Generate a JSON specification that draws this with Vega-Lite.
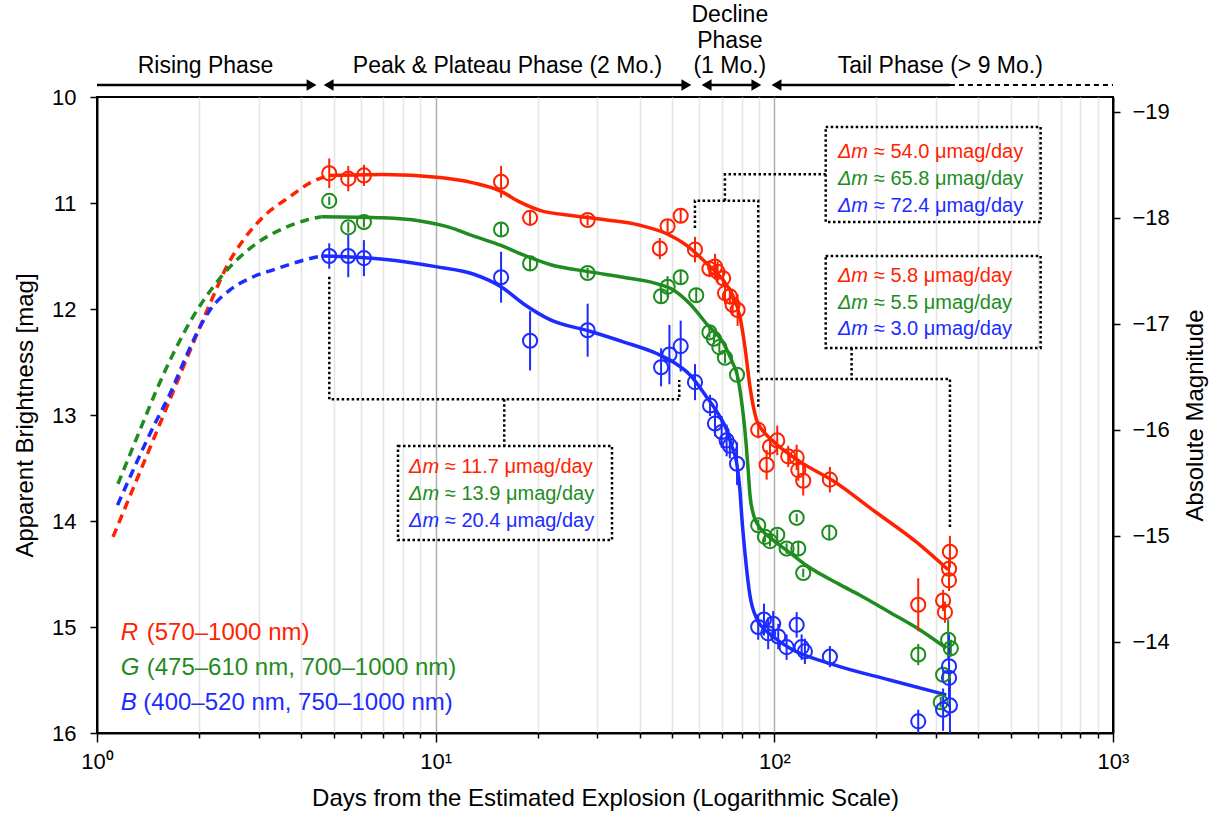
{
  "$schema": "https://vega.github.io/schema/vega-lite/v6.json",
  "width": 1016,
  "height": 636,
  "autosize": {"type": "none"},
  "padding": {"left": 97, "top": 97, "right": 110, "bottom": 83},
  "background": "white",
  "config": {
    "view": {"stroke": "black", "strokeWidth": 2},
    "axis": {"labelFont": "Liberation Sans", "titleFont": "Liberation Sans", "labelColor": "black", "titleColor": "black", "domainColor": "black", "tickColor": "black", "domainWidth": 2, "tickWidth": 1.5, "titleFontWeight": "normal", "labelFontSize": 22, "titleFontSize": 24, "grid": false},
    "text": {"font": "Liberation Sans"}
  },
  "datasets": {
    "ext": [
      {"b": "R", "d": 1.115, "m": 14.15}, {"b": "R", "d": 1.535, "m": 13.08}, {"b": "R", "d": 1.719, "m": 12.70}, {"b": "R", "d": 1.924, "m": 12.32}, {"b": "R", "d": 2.156, "m": 11.95}, {"b": "R", "d": 2.415, "m": 11.60}, {"b": "R", "d": 2.704, "m": 11.35}, {"b": "R", "d": 3.097, "m": 11.13}, {"b": "R", "d": 3.713, "m": 10.94}, {"b": "R", "d": 4.255, "m": 10.81}, {"b": "R", "d": 4.85, "m": 10.74},
      {"b": "G", "d": 1.153, "m": 13.65}, {"b": "G", "d": 1.34, "m": 13.14}, {"b": "G", "d": 1.501, "m": 12.76}, {"b": "G", "d": 1.68, "m": 12.42}, {"b": "G", "d": 1.924, "m": 12.07}, {"b": "G", "d": 2.205, "m": 11.79}, {"b": "G", "d": 2.526, "m": 11.57}, {"b": "G", "d": 2.961, "m": 11.38}, {"b": "G", "d": 3.549, "m": 11.24}, {"b": "G", "d": 4.16, "m": 11.16}, {"b": "G", "d": 4.6, "m": 11.13},
      {"b": "B", "d": 1.15, "m": 13.85}, {"b": "B", "d": 1.483, "m": 13.08}, {"b": "B", "d": 1.643, "m": 12.80}, {"b": "B", "d": 1.798, "m": 12.51}, {"b": "B", "d": 1.97, "m": 12.23}, {"b": "B", "d": 2.156, "m": 12.01}, {"b": "B", "d": 2.47, "m": 11.82}, {"b": "B", "d": 2.829, "m": 11.71}, {"b": "B", "d": 3.393, "m": 11.62}, {"b": "B", "d": 4.066, "m": 11.54}, {"b": "B", "d": 4.6, "m": 11.50}
    ],
    "curve": [
      {"b": "R", "d": 4.85, "m": 10.74}, {"b": "R", "d": 7, "m": 10.73}, {"b": "R", "d": 10.3, "m": 10.76}, {"b": "R", "d": 12.9, "m": 10.81}, {"b": "R", "d": 15.6, "m": 10.89}, {"b": "R", "d": 17.7, "m": 10.99}, {"b": "R", "d": 20.3, "m": 11.07}, {"b": "R", "d": 25.5, "m": 11.12}, {"b": "R", "d": 32, "m": 11.16}, {"b": "R", "d": 40.1, "m": 11.21}, {"b": "R", "d": 48.1, "m": 11.29}, {"b": "R", "d": 55.1, "m": 11.40}, {"b": "R", "d": 63.1, "m": 11.57}, {"b": "R", "d": 70.7, "m": 11.73}, {"b": "R", "d": 75.6, "m": 11.88}, {"b": "R", "d": 79.1, "m": 12.07}, {"b": "R", "d": 81.9, "m": 12.36}, {"b": "R", "d": 84.7, "m": 12.73}, {"b": "R", "d": 88.7, "m": 13.05}, {"b": "R", "d": 92, "m": 13.14}, {"b": "R", "d": 97, "m": 13.22}, {"b": "R", "d": 119, "m": 13.44}, {"b": "R", "d": 149, "m": 13.62}, {"b": "R", "d": 200, "m": 13.92}, {"b": "R", "d": 263, "m": 14.20}, {"b": "R", "d": 326, "m": 14.46},
      {"b": "G", "d": 4.6, "m": 11.13}, {"b": "G", "d": 7, "m": 11.14}, {"b": "G", "d": 9, "m": 11.17}, {"b": "G", "d": 11, "m": 11.23}, {"b": "G", "d": 12.9, "m": 11.31}, {"b": "G", "d": 15.6, "m": 11.40}, {"b": "G", "d": 18.15, "m": 11.49}, {"b": "G", "d": 21.75, "m": 11.58}, {"b": "G", "d": 28.55, "m": 11.65}, {"b": "G", "d": 35.8, "m": 11.70}, {"b": "G", "d": 44.9, "m": 11.76}, {"b": "G", "d": 50.3, "m": 11.82}, {"b": "G", "d": 56.3, "m": 11.95}, {"b": "G", "d": 63.1, "m": 12.14}, {"b": "G", "d": 70.7, "m": 12.32}, {"b": "G", "d": 75.6, "m": 12.52}, {"b": "G", "d": 77.4, "m": 12.60}, {"b": "G", "d": 80.1, "m": 12.88}, {"b": "G", "d": 81.9, "m": 13.15}, {"b": "G", "d": 83.7, "m": 13.52}, {"b": "G", "d": 84.7, "m": 13.75}, {"b": "G", "d": 86.6, "m": 13.93}, {"b": "G", "d": 90, "m": 14.05}, {"b": "G", "d": 92.7, "m": 14.10}, {"b": "G", "d": 99.2, "m": 14.18}, {"b": "G", "d": 111.2, "m": 14.30}, {"b": "G", "d": 124.5, "m": 14.42}, {"b": "G", "d": 156.2, "m": 14.60}, {"b": "G", "d": 179, "m": 14.70}, {"b": "G", "d": 219, "m": 14.86}, {"b": "G", "d": 270, "m": 15.03}, {"b": "G", "d": 322, "m": 15.20},
      {"b": "B", "d": 4.6, "m": 11.50}, {"b": "B", "d": 7, "m": 11.53}, {"b": "B", "d": 10.0, "m": 11.60}, {"b": "B", "d": 12.9, "m": 11.67}, {"b": "B", "d": 15.6, "m": 11.79}, {"b": "B", "d": 18.15, "m": 11.95}, {"b": "B", "d": 21.75, "m": 12.10}, {"b": "B", "d": 28.55, "m": 12.21}, {"b": "B", "d": 35.8, "m": 12.31}, {"b": "B", "d": 44.9, "m": 12.42}, {"b": "B", "d": 50.3, "m": 12.50}, {"b": "B", "d": 56.3, "m": 12.62}, {"b": "B", "d": 63.1, "m": 12.83}, {"b": "B", "d": 68, "m": 12.98}, {"b": "B", "d": 72.3, "m": 13.14}, {"b": "B", "d": 75, "m": 13.30}, {"b": "B", "d": 77.4, "m": 13.45}, {"b": "B", "d": 79.1, "m": 13.70}, {"b": "B", "d": 80.1, "m": 13.95}, {"b": "B", "d": 81.9, "m": 14.30}, {"b": "B", "d": 84.7, "m": 14.70}, {"b": "B", "d": 88.7, "m": 14.92}, {"b": "B", "d": 99.2, "m": 15.09}, {"b": "B", "d": 111.2, "m": 15.20}, {"b": "B", "d": 147.8, "m": 15.35}, {"b": "B", "d": 219, "m": 15.50}, {"b": "B", "d": 322, "m": 15.64}
    ],
    "pts": [
      {"b": "R", "d": 4.85, "m": 10.72, "e": 0.14}, {"b": "R", "d": 5.52, "m": 10.77, "e": 0.12}, {"b": "R", "d": 6.14, "m": 10.74, "e": 0.10}, {"b": "R", "d": 15.6, "m": 10.80, "e": 0.15}, {"b": "R", "d": 19.0, "m": 11.14, "e": 0.06}, {"b": "R", "d": 28.1, "m": 11.16, "e": 0.05}, {"b": "R", "d": 45.9, "m": 11.43, "e": 0.10}, {"b": "R", "d": 48.4, "m": 11.22, "e": 0.06}, {"b": "R", "d": 52.9, "m": 11.12, "e": 0.07}, {"b": "R", "d": 58.3, "m": 11.44, "e": 0.12}, {"b": "R", "d": 64.3, "m": 11.62, "e": 0.08}, {"b": "R", "d": 66.8, "m": 11.60, "e": 0.12}, {"b": "R", "d": 68.0, "m": 11.65, "e": 0.10}, {"b": "R", "d": 70.6, "m": 11.71, "e": 0.08}, {"b": "R", "d": 71.5, "m": 11.85, "e": 0.10}, {"b": "R", "d": 73.9, "m": 11.88, "e": 0.08}, {"b": "R", "d": 75.3, "m": 11.96, "e": 0.10}, {"b": "R", "d": 77.9, "m": 12.01, "e": 0.15},
      {"b": "R", "d": 89.6, "m": 13.14, "e": 0.08}, {"b": "R", "d": 94.9, "m": 13.47, "e": 0.14}, {"b": "R", "d": 97.1, "m": 13.30, "e": 0.10}, {"b": "R", "d": 102.0, "m": 13.24, "e": 0.14}, {"b": "R", "d": 109.9, "m": 13.39, "e": 0.10}, {"b": "R", "d": 116.4, "m": 13.40, "e": 0.12}, {"b": "R", "d": 117.7, "m": 13.52, "e": 0.10}, {"b": "R", "d": 121.7, "m": 13.62, "e": 0.14}, {"b": "R", "d": 145.9, "m": 13.61, "e": 0.12}, {"b": "R", "d": 266, "m": 14.79, "e": 0.25}, {"b": "R", "d": 330, "m": 14.29, "e": 0.15}, {"b": "R", "d": 328, "m": 14.45, "e": 0.10}, {"b": "R", "d": 328, "m": 14.56, "e": 0.10}, {"b": "R", "d": 315, "m": 14.75, "e": 0.10}, {"b": "R", "d": 319, "m": 14.86, "e": 0.10},
      {"b": "G", "d": 4.85, "m": 10.98, "e": 0.04}, {"b": "G", "d": 5.52, "m": 11.23, "e": 0.05}, {"b": "G", "d": 6.14, "m": 11.18, "e": 0.05}, {"b": "G", "d": 15.6, "m": 11.25, "e": 0.06}, {"b": "G", "d": 19.0, "m": 11.57, "e": 0.07}, {"b": "G", "d": 28.1, "m": 11.66, "e": 0.05}, {"b": "G", "d": 46.3, "m": 11.88, "e": 0.06}, {"b": "G", "d": 48.4, "m": 11.79, "e": 0.10}, {"b": "G", "d": 52.9, "m": 11.70, "e": 0.07}, {"b": "G", "d": 58.8, "m": 11.87, "e": 0.07}, {"b": "G", "d": 64.3, "m": 12.22, "e": 0.05}, {"b": "G", "d": 66.3, "m": 12.28, "e": 0.05}, {"b": "G", "d": 68.8, "m": 12.36, "e": 0.05}, {"b": "G", "d": 71.5, "m": 12.46, "e": 0.05}, {"b": "G", "d": 77.6, "m": 12.62, "e": 0.05},
      {"b": "G", "d": 89.6, "m": 14.04, "e": 0.05}, {"b": "G", "d": 93.8, "m": 14.15, "e": 0.05}, {"b": "G", "d": 97.1, "m": 14.19, "e": 0.05}, {"b": "G", "d": 102.0, "m": 14.13, "e": 0.05}, {"b": "G", "d": 108.7, "m": 14.26, "e": 0.05}, {"b": "G", "d": 116.4, "m": 13.97, "e": 0.04}, {"b": "G", "d": 117.7, "m": 14.26, "e": 0.07}, {"b": "G", "d": 121.7, "m": 14.49, "e": 0.04}, {"b": "G", "d": 145.3, "m": 14.11, "e": 0.07}, {"b": "G", "d": 266, "m": 15.26, "e": 0.10}, {"b": "G", "d": 326, "m": 15.12, "e": 0.19}, {"b": "G", "d": 332, "m": 15.20, "e": 0.08}, {"b": "G", "d": 315, "m": 15.45, "e": 0.05}, {"b": "G", "d": 310, "m": 15.71, "e": 0.05},
      {"b": "B", "d": 4.85, "m": 11.50, "e": 0.12}, {"b": "B", "d": 5.52, "m": 11.50, "e": 0.20}, {"b": "B", "d": 6.14, "m": 11.52, "e": 0.17}, {"b": "B", "d": 15.6, "m": 11.70, "e": 0.24}, {"b": "B", "d": 19.0, "m": 12.30, "e": 0.28}, {"b": "B", "d": 28.1, "m": 12.20, "e": 0.25}, {"b": "B", "d": 46.3, "m": 12.55, "e": 0.18}, {"b": "B", "d": 49.0, "m": 12.43, "e": 0.28}, {"b": "B", "d": 52.9, "m": 12.35, "e": 0.24}, {"b": "B", "d": 58.3, "m": 12.69, "e": 0.17}, {"b": "B", "d": 64.6, "m": 12.91, "e": 0.10}, {"b": "B", "d": 66.8, "m": 13.08, "e": 0.12}, {"b": "B", "d": 69.9, "m": 13.16, "e": 0.15}, {"b": "B", "d": 72.3, "m": 13.24, "e": 0.15}, {"b": "B", "d": 73.9, "m": 13.29, "e": 0.12}, {"b": "B", "d": 77.6, "m": 13.46, "e": 0.20},
      {"b": "B", "d": 89.6, "m": 15.00, "e": 0.12}, {"b": "B", "d": 93.2, "m": 14.93, "e": 0.15}, {"b": "B", "d": 95.9, "m": 15.06, "e": 0.15}, {"b": "B", "d": 99.2, "m": 14.97, "e": 0.12}, {"b": "B", "d": 102.7, "m": 15.09, "e": 0.12}, {"b": "B", "d": 108.7, "m": 15.19, "e": 0.12}, {"b": "B", "d": 116.4, "m": 14.98, "e": 0.12}, {"b": "B", "d": 120.4, "m": 15.19, "e": 0.12}, {"b": "B", "d": 123.1, "m": 15.23, "e": 0.12}, {"b": "B", "d": 145.9, "m": 15.28, "e": 0.10}, {"b": "B", "d": 266, "m": 15.89, "e": 0.11}, {"b": "B", "d": 328, "m": 15.37, "e": 0.30}, {"b": "B", "d": 328, "m": 15.48, "e": 0.15}, {"b": "B", "d": 330, "m": 15.74, "e": 0.26}, {"b": "B", "d": 315, "m": 15.78, "e": 0.20}
    ],
    "boxes": [
      {"d": 141.8, "x2": 611.3, "m": 10.283, "y2": 11.179},
      {"d": 141.8, "x2": 611.3, "m": 11.5, "y2": 12.368},
      {"d": 7.741, "x2": 33.16, "m": 13.292, "y2": 14.179}
    ],
    "conn": [
      {"seg": 1, "o": 1, "d": 4.852, "m": 11.695}, {"seg": 1, "o": 2, "d": 4.852, "m": 12.852}, {"seg": 1, "o": 3, "d": 52.39, "m": 12.852}, {"seg": 1, "o": 4, "d": 52.39, "m": 12.67},
      {"seg": 2, "o": 1, "d": 15.94, "m": 12.852}, {"seg": 2, "o": 2, "d": 15.94, "m": 13.292},
      {"seg": 3, "o": 1, "d": 58.29, "m": 11.236}, {"seg": 3, "o": 2, "d": 58.29, "m": 10.978}, {"seg": 3, "o": 3, "d": 89.62, "m": 10.978}, {"seg": 3, "o": 4, "d": 89.62, "m": 12.613},
      {"seg": 4, "o": 1, "d": 71.46, "m": 10.978}, {"seg": 4, "o": 2, "d": 71.46, "m": 10.729}, {"seg": 4, "o": 3, "d": 141.8, "m": 10.729},
      {"seg": 5, "o": 1, "d": 89.62, "m": 12.922}, {"seg": 5, "o": 2, "d": 89.62, "m": 12.66}, {"seg": 5, "o": 3, "d": 330, "m": 12.66}, {"seg": 5, "o": 4, "d": 330, "m": 14.069},
      {"seg": 6, "o": 1, "d": 169.1, "m": 12.368}, {"seg": 6, "o": 2, "d": 169.1, "m": 12.66}
    ],
    "hdr": [
      {"seg": 1, "d": 1, "m": 9.887}, {"seg": 1, "d": 4.3, "m": 9.887},
      {"seg": 2, "d": 4.83, "m": 9.887}, {"seg": 2, "d": 55.0, "m": 9.887},
      {"seg": 3, "d": 63.1, "m": 9.887}, {"seg": 3, "d": 88.5, "m": 9.887},
      {"seg": 4, "d": 101.5, "m": 9.887}, {"seg": 4, "d": 330, "m": 9.887}
    ],
    "hdrdash": [
      {"d": 330, "m": 9.887}, {"d": 1000, "m": 9.887}
    ],
    "heads": [
      {"d": 4.3, "m": 9.887, "dir": "r"}, {"d": 4.83, "m": 9.887, "dir": "l"},
      {"d": 55.0, "m": 9.887, "dir": "r"}, {"d": 63.1, "m": 9.887, "dir": "l"},
      {"d": 88.5, "m": 9.887, "dir": "r"}, {"d": 101.5, "m": 9.887, "dir": "l"}
    ],
    "htext": [
      {"d": 2.09, "m": 9.708, "t": "Rising Phase"},
      {"d": 16.3, "m": 9.708, "t": "Peak & Plateau Phase (2 Mo.)"},
      {"d": 73.9, "m": 9.225, "t": "Decline"},
      {"d": 73.9, "m": 9.467, "t": "Phase"},
      {"d": 73.9, "m": 9.708, "t": "(1 Mo.)"},
      {"d": 309, "m": 9.708, "t": "Tail Phase (> 9 Mo.)"}
    ],
    "ann": [
      {"b": "R", "d1": 154.1, "d2": 196.8, "m": 10.52, "sym": "Δm", "rest": "≈ 54.0 μmag/day"},
      {"b": "G", "d1": 154.1, "d2": 196.8, "m": 10.775, "sym": "Δm", "rest": "≈ 65.8 μmag/day"},
      {"b": "B", "d1": 154.1, "d2": 196.8, "m": 11.025, "sym": "Δm", "rest": "≈ 72.4 μmag/day"},
      {"b": "R", "d1": 154.1, "d2": 196.8, "m": 11.69, "sym": "Δm", "rest": "≈ 5.8 μmag/day"},
      {"b": "G", "d1": 154.1, "d2": 196.8, "m": 11.945, "sym": "Δm", "rest": "≈ 5.5 μmag/day"},
      {"b": "B", "d1": 154.1, "d2": 196.8, "m": 12.19, "sym": "Δm", "rest": "≈ 3.0 μmag/day"},
      {"b": "R", "d1": 8.34, "d2": 10.65, "m": 13.49, "sym": "Δm", "rest": "≈ 11.7 μmag/day"},
      {"b": "G", "d1": 8.34, "d2": 10.65, "m": 13.745, "sym": "Δm", "rest": "≈ 13.9 μmag/day"},
      {"b": "B", "d1": 8.34, "d2": 10.65, "m": 14.0, "sym": "Δm", "rest": "≈ 20.4 μmag/day"}
    ],
    "leg": [
      {"b": "R", "d1": 1.175, "d2": 1.402, "m": 15.057, "sym": "R", "rest": "(570–1000 nm)"},
      {"b": "G", "d1": 1.175, "d2": 1.402, "m": 15.387, "sym": "G", "rest": "(475–610 nm, 700–1000 nm)"},
      {"b": "B", "d1": 1.175, "d2": 1.37, "m": 15.717, "sym": "B", "rest": "(400–520 nm, 750–1000 nm)"}
    ]
  },
  "layer": [
    {
      "layer": [
        {
          "data": {"name": "ext"},
          "mark": {"type": "line", "strokeWidth": 3.5, "strokeDash": [9, 6], "interpolate": "monotone"},
          "encoding": {
            "x": {
              "field": "d", "type": "quantitative", "title": "Days from the Estimated Explosion (Logarithmic Scale)",
              "scale": {"type": "log", "domain": [1, 1000], "nice": false},
              "axis": {
                "values": [1, 2, 3, 4, 5, 6, 7, 8, 9, 10, 20, 30, 40, 50, 60, 70, 80, 90, 100, 200, 300, 400, 500, 600, 700, 800, 900, 1000],
                "labelExpr": "datum.value == 1 ? '10⁰' : datum.value == 10 ? '10¹' : datum.value == 100 ? '10²' : datum.value == 1000 ? '10³' : ''",
                "labelOverlap": false,
                "labelFlush": false,
                "labelPadding": 9,
                "grid": true,
                "gridColor": {"condition": {"test": "datum.value == 10 || datum.value == 100", "value": "#b0b0b0"}, "value": "#e4e4e4"},
                "gridOpacity": {"condition": {"test": "datum.value == 1 || datum.value == 1000", "value": 0}, "value": 1},
                "gridWidth": 1.5,
                "tickSize": {"condition": {"test": "datum.value == 1 || datum.value == 10 || datum.value == 100 || datum.value == 1000", "value": 9}, "value": 5},
                "titlePadding": 14
              }
            },
            "y": {
              "field": "m", "type": "quantitative", "title": "Apparent Brightness [mag]",
              "scale": {"domain": [10, 16], "reverse": true, "nice": false, "zero": false},
              "axis": {"orient": "left", "values": [10, 11, 12, 13, 14, 15, 16], "format": "d", "tickSize": 7, "labelPadding": 14, "titlePadding": 14}
            },
            "color": {"field": "b", "type": "nominal", "scale": {"domain": ["R", "G", "B"], "range": ["#ff2200", "#1e8c1e", "#1c2bff"]}, "legend": null}
          }
        },
        {
          "data": {"name": "curve"},
          "mark": {"type": "line", "strokeWidth": 3.5, "interpolate": "monotone"},
          "encoding": {
            "x": {"field": "d", "type": "quantitative", "title": "Days from the Estimated Explosion (Logarithmic Scale)"},
            "y": {"field": "m", "type": "quantitative", "title": "Apparent Brightness [mag]"},
            "color": {"field": "b", "type": "nominal", "legend": null}
          }
        },
        {
          "data": {"name": "pts"},
          "mark": {"type": "errorbar", "thickness": 2},
          "encoding": {
            "x": {"field": "d", "type": "quantitative", "title": "Days from the Estimated Explosion (Logarithmic Scale)"},
            "y": {"field": "m", "type": "quantitative", "title": "Apparent Brightness [mag]"},
            "yError": {"field": "e"},
            "color": {"field": "b", "type": "nominal", "legend": null}
          }
        },
        {
          "data": {"name": "pts"},
          "mark": {"type": "point", "shape": "circle", "filled": false, "size": 200, "strokeWidth": 2, "opacity": 1},
          "encoding": {
            "x": {"field": "d", "type": "quantitative", "title": "Days from the Estimated Explosion (Logarithmic Scale)"},
            "y": {"field": "m", "type": "quantitative", "title": "Apparent Brightness [mag]"},
            "color": {"field": "b", "type": "nominal", "legend": null}
          }
        },
        {
          "data": {"name": "boxes"},
          "mark": {"type": "rect", "fill": "white", "fillOpacity": 0, "stroke": "black", "strokeWidth": 2.5, "strokeDash": [2.5, 2.5]},
          "encoding": {
            "x": {"field": "d", "type": "quantitative", "title": "Days from the Estimated Explosion (Logarithmic Scale)"},
            "x2": {"field": "x2"},
            "y": {"field": "m", "type": "quantitative", "title": "Apparent Brightness [mag]"},
            "y2": {"field": "y2"}
          }
        },
        {
          "data": {"name": "conn"},
          "mark": {"type": "line", "color": "black", "strokeWidth": 2.5, "strokeDash": [2.5, 2.5]},
          "encoding": {
            "x": {"field": "d", "type": "quantitative", "title": "Days from the Estimated Explosion (Logarithmic Scale)"},
            "y": {"field": "m", "type": "quantitative", "title": "Apparent Brightness [mag]"},
            "detail": {"field": "seg", "type": "nominal"},
            "order": {"field": "o", "type": "quantitative"}
          }
        },
        {
          "data": {"name": "hdr"},
          "mark": {"type": "line", "color": "black", "strokeWidth": 2.5},
          "encoding": {
            "x": {"field": "d", "type": "quantitative", "title": "Days from the Estimated Explosion (Logarithmic Scale)"},
            "y": {"field": "m", "type": "quantitative", "title": "Apparent Brightness [mag]"},
            "detail": {"field": "seg", "type": "nominal"}
          }
        },
        {
          "data": {"name": "hdrdash"},
          "mark": {"type": "line", "color": "black", "strokeWidth": 2, "strokeDash": [5, 4]},
          "encoding": {
            "x": {"field": "d", "type": "quantitative", "title": "Days from the Estimated Explosion (Logarithmic Scale)"},
            "y": {"field": "m", "type": "quantitative", "title": "Apparent Brightness [mag]"}
          }
        },
        {
          "data": {"name": "heads"},
          "mark": {"type": "point", "filled": true, "color": "black", "size": 130, "opacity": 1},
          "encoding": {
            "x": {"field": "d", "type": "quantitative", "title": "Days from the Estimated Explosion (Logarithmic Scale)"},
            "y": {"field": "m", "type": "quantitative", "title": "Apparent Brightness [mag]"},
            "shape": {"field": "dir", "type": "nominal", "scale": {"domain": ["r", "l"], "range": ["triangle-right", "triangle-left"]}, "legend": null}
          }
        },
        {
          "data": {"name": "htext"},
          "mark": {"type": "text", "fontSize": 23, "align": "center", "baseline": "middle", "color": "black"},
          "encoding": {
            "x": {"field": "d", "type": "quantitative", "title": "Days from the Estimated Explosion (Logarithmic Scale)"},
            "y": {"field": "m", "type": "quantitative", "title": "Apparent Brightness [mag]"},
            "text": {"field": "t"}
          }
        },
        {
          "data": {"name": "ann"},
          "mark": {"type": "text", "fontSize": 20, "fontStyle": "italic", "align": "left", "baseline": "middle"},
          "encoding": {
            "x": {"field": "d1", "type": "quantitative", "title": "Days from the Estimated Explosion (Logarithmic Scale)"},
            "y": {"field": "m", "type": "quantitative", "title": "Apparent Brightness [mag]"},
            "text": {"field": "sym"},
            "color": {"field": "b", "type": "nominal", "legend": null}
          }
        },
        {
          "data": {"name": "ann"},
          "mark": {"type": "text", "fontSize": 20, "align": "left", "baseline": "middle"},
          "encoding": {
            "x": {"field": "d2", "type": "quantitative", "title": "Days from the Estimated Explosion (Logarithmic Scale)"},
            "y": {"field": "m", "type": "quantitative", "title": "Apparent Brightness [mag]"},
            "text": {"field": "rest"},
            "color": {"field": "b", "type": "nominal", "legend": null}
          }
        },
        {
          "data": {"name": "leg"},
          "mark": {"type": "text", "fontSize": 24, "fontStyle": "italic", "align": "left", "baseline": "middle"},
          "encoding": {
            "x": {"field": "d1", "type": "quantitative", "title": "Days from the Estimated Explosion (Logarithmic Scale)"},
            "y": {"field": "m", "type": "quantitative", "title": "Apparent Brightness [mag]"},
            "text": {"field": "sym"},
            "color": {"field": "b", "type": "nominal", "legend": null}
          }
        },
        {
          "data": {"name": "leg"},
          "mark": {"type": "text", "fontSize": 24, "align": "left", "baseline": "middle"},
          "encoding": {
            "x": {"field": "d2", "type": "quantitative", "title": "Days from the Estimated Explosion (Logarithmic Scale)"},
            "y": {"field": "m", "type": "quantitative", "title": "Apparent Brightness [mag]"},
            "text": {"field": "rest"},
            "color": {"field": "b", "type": "nominal", "legend": null}
          }
        }
      ]
    },
    {
      "data": {"values": [{"d": 10, "a": -19.14}, {"d": 10, "a": -13.14}]},
      "mark": {"type": "point", "opacity": 0},
      "encoding": {
        "x": {"field": "d", "type": "quantitative", "title": "Days from the Estimated Explosion (Logarithmic Scale)"},
        "y": {
          "field": "a", "type": "quantitative", "title": "Absolute Magnitude",
          "scale": {"domain": [-19.14, -13.14], "reverse": true, "nice": false, "zero": false},
          "axis": {"orient": "right", "values": [-19, -18, -17, -16, -15, -14], "tickSize": 7, "labelPadding": 12, "titleAngle": -90, "titleBaseline": "top", "titlePadding": 14}
        }
      }
    }
  ],
  "resolve": {"scale": {"y": "independent"}}
}
